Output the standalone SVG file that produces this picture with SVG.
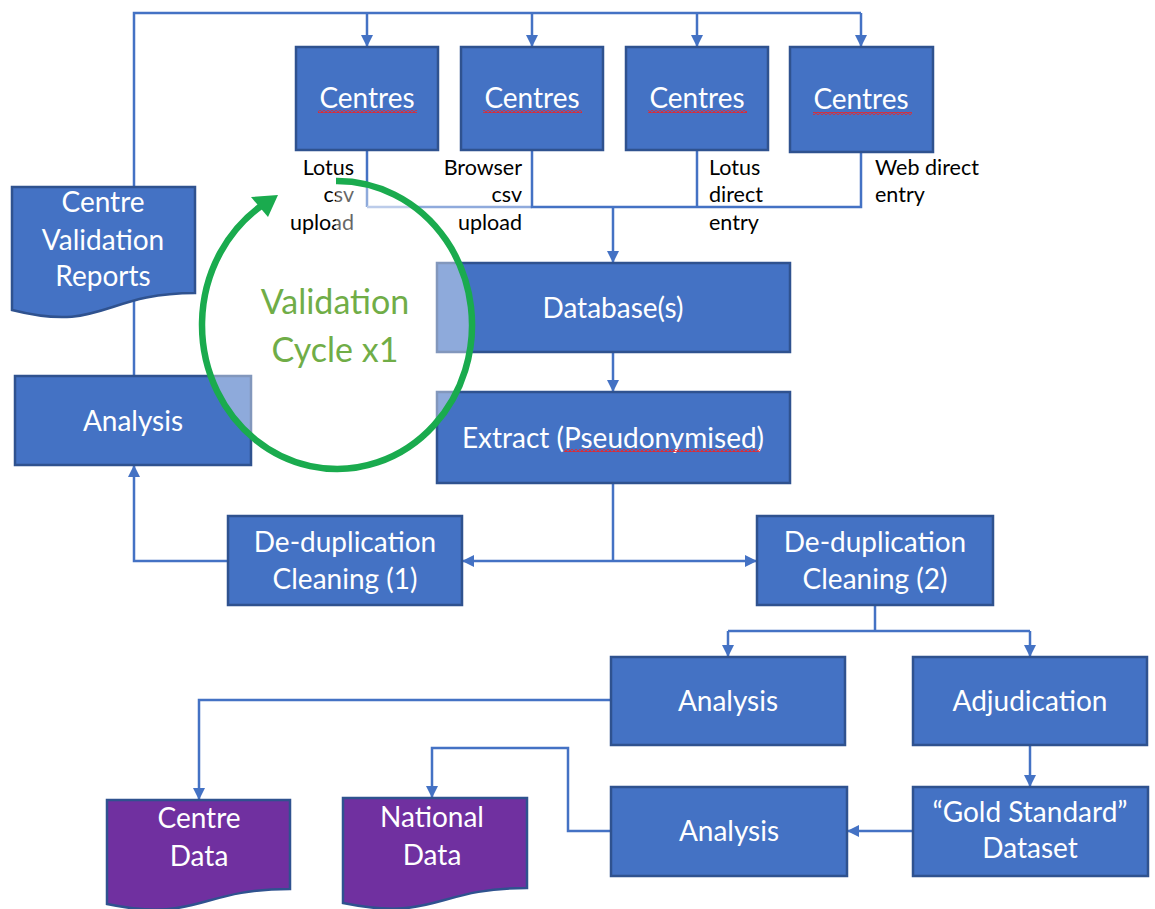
<svg xmlns="http://www.w3.org/2000/svg" width="1155" height="909" viewBox="0 0 1155 909">
<style>
.box{fill:#4472c4;stroke:#2f528f;stroke-width:2.5}
.doc{fill:#4472c4;stroke:#2f528f;stroke-width:2.5}
.pdoc{fill:#7030a0;stroke:#2f528f;stroke-width:2.5}
.t{font-family:Lato,"Liberation Sans",sans-serif;font-size:28px;fill:#ffffff;text-anchor:middle}
.s{font-family:Lato,"Liberation Sans",sans-serif;font-size:21.5px;fill:#000000}
.c{fill:none;stroke:#4472c4;stroke-width:2.5}
.ca{fill:none;stroke:#4472c4;stroke-width:2.5;marker-end:url(#ah)}
.g{font-family:Lato,"Liberation Sans",sans-serif;font-size:34px;fill:#70ad47;text-anchor:middle}
</style>
<defs>
<marker id="ah" markerUnits="userSpaceOnUse" markerWidth="12" markerHeight="12" refX="12" refY="6" orient="auto">
<path d="M0,0 L12,6 L0,12 z" fill="#4472c4"/>
</marker>
<pattern id="wavy" patternUnits="userSpaceOnUse" x="0" y="0" width="4" height="3">
<path d="M0,2.5 L2,0.5 L4,2.5" fill="none" stroke="#e8262b" stroke-width="1.2"/>
</pattern>
</defs>
<rect width="1155" height="909" fill="#ffffff"/>

<g id="connectors">
<path class="c" d="M134 187 V13 H861"/>
<path class="ca" d="M367 13 V47"/>
<path class="ca" d="M532 13 V47"/>
<path class="ca" d="M697 13 V47"/>
<path class="ca" d="M861 13 V47"/>
<path class="c" d="M134 376 V300"/>
<path class="c" d="M367 150 V207"/>
<path fill="none" stroke="#8faadc" stroke-width="2.5" d="M367 207 H532"/>
<path class="c" d="M532 150 V207 H861 V152"/>
<path class="c" d="M697 150 V207"/>
<path class="ca" d="M613 207 V263"/>
<path class="ca" d="M613 352 V392"/>
<path class="c" d="M613 483 V561"/>
<path class="ca" d="M613 561 H462"/>
<path class="ca" d="M613 561 H757"/>
<path class="ca" d="M228 561 H134 V465"/>
<path class="c" d="M875 605 V631"/>
<path class="c" d="M728 631 H1030"/>
<path class="ca" d="M728 631 V657"/>
<path class="ca" d="M1030 631 V657"/>
<path class="ca" d="M611 700 H199 V800"/>
<path class="ca" d="M1030 745 V787"/>
<path class="ca" d="M913 831 H847"/>
<path class="ca" d="M611 831 H568 V748 H432 V798"/>
</g>

<g id="centres1">
<rect class="box" x="296" y="47" width="142" height="103"/>
<text class="t" x="367" y="108">Centres</text>
<rect x="318" y="110" width="99" height="3" fill="url(#wavy)"/>
</g>
<g id="centres2">
<rect class="box" x="461" y="47" width="142" height="103"/>
<text class="t" x="532" y="108">Centres</text>
<rect x="483" y="110" width="99" height="3" fill="url(#wavy)"/>
</g>
<g id="centres3">
<rect class="box" x="626" y="47" width="142" height="103"/>
<text class="t" x="697" y="108">Centres</text>
<rect x="648" y="110" width="99" height="3" fill="url(#wavy)"/>
</g>
<g id="centres4">
<rect class="box" x="790" y="47" width="143" height="105"/>
<text class="t" x="861" y="109">Centres</text>
<rect x="813" y="112" width="99" height="3" fill="url(#wavy)"/>
</g>

<g id="labels">
<text class="s" x="354" y="175" text-anchor="end">Lotus</text>
<text class="s" x="354" y="202" text-anchor="end">csv</text>
<text class="s" x="354" y="230" text-anchor="end">upload</text>
<text class="s" x="522" y="175" text-anchor="end">Browser</text>
<text class="s" x="522" y="202" text-anchor="end">csv</text>
<text class="s" x="522" y="230" text-anchor="end">upload</text>
<text class="s" x="709" y="175">Lotus</text>
<text class="s" x="709" y="202">direct</text>
<text class="s" x="709" y="230">entry</text>
<text class="s" x="875" y="175">Web direct</text>
<text class="s" x="875" y="202">entry</text>
</g>

<g id="reports">
<path class="doc" d="M12 187 H195 V293 C103 293 103 333 12 310 Z"/>
<text class="t" x="103" y="212">Centre</text>
<text class="t" x="103" y="250">Validation</text>
<text class="t" x="103" y="286">Reports</text>
</g>

<g id="database">
<rect class="box" x="437" y="263" width="353" height="89"/>
<text class="t" x="613" y="318">Database(s)</text>
</g>
<g id="extract">
<rect class="box" x="437" y="392" width="353" height="91"/>
<text class="t" x="613" y="448">Extract (Pseudonymised)</text>
<rect x="564" y="449" width="196" height="3" fill="url(#wavy)"/>
</g>
<g id="analysis-left">
<rect class="box" x="15" y="376" width="236" height="89"/>
<text class="t" x="133" y="431">Analysis</text>
</g>
<g id="dedup1">
<rect class="box" x="228" y="516" width="234" height="89"/>
<text class="t" x="345" y="552">De-duplication</text>
<text class="t" x="345" y="589">Cleaning (1)</text>
</g>
<g id="dedup2">
<rect class="box" x="757" y="516" width="236" height="89"/>
<text class="t" x="875" y="552">De-duplication</text>
<text class="t" x="875" y="589">Cleaning (2)</text>
</g>
<g id="analysis-mid">
<rect class="box" x="611" y="657" width="234" height="88"/>
<text class="t" x="728" y="711">Analysis</text>
</g>
<g id="adjudication">
<rect class="box" x="913" y="657" width="234" height="88"/>
<text class="t" x="1030" y="711">Adjudication</text>
</g>
<g id="analysis-bottom">
<rect class="box" x="611" y="787" width="236" height="89"/>
<text class="t" x="729" y="841">Analysis</text>
</g>
<g id="gold">
<rect class="box" x="913" y="787" width="235" height="89"/>
<text class="t" x="1030" y="822">“Gold Standard”</text>
<text class="t" x="1030" y="858">Dataset</text>
</g>
<g id="centre-data">
<path class="pdoc" d="M107 800 H290 V889 C198 889 198 923 107 904 Z"/>
<text class="t" x="199" y="828">Centre</text>
<text class="t" x="199" y="866">Data</text>
</g>
<g id="national-data">
<path class="pdoc" d="M343 798 H527 V888 C435 888 435 922 343 903 Z"/>
<text class="t" x="432" y="827">National</text>
<text class="t" x="432" y="865">Data</text>
</g>

<g id="validation-cycle">
<path d="M336 325 L336 181 A135 144 0 1 1 259 207 Z" fill="#ffffff" fill-opacity="0.4"/>
<path d="M336 181 A135 144 0 1 1 261 206" fill="none" stroke="#1aab4e" stroke-width="6.5"/>
<polygon points="278,195 251,197 268,217" fill="#1aab4e"/>
<text class="g" x="335" y="314">Validation</text>
<text class="g" x="335" y="362">Cycle x1</text>
</g>
</svg>
